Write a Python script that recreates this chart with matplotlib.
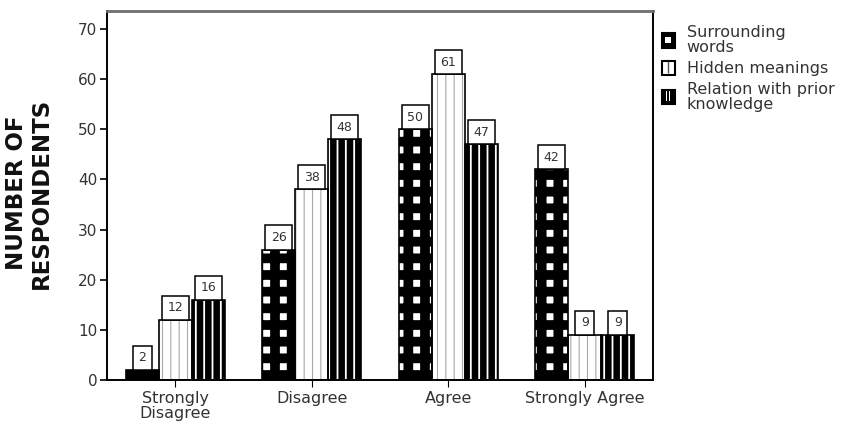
import matplotlib
matplotlib.use("Agg")
import matplotlib.pyplot as plt
import numpy as np
from matplotlib.patches import Patch
from matplotlib.lines import Line2D
from matplotlib.legend_handler import HandlerTuple

# Survey responses per agreement level
categories = ["Strongly\nDisagree", "Disagree", "Agree", "Strongly Agree"]
series_names = ["Surrounding\nwords", "Hidden meanings", "Relation with prior\nknowledge"]
surrounding_words = [2, 26, 50, 42]
hidden_meanings = [12, 38, 61, 9]
relation_prior = [16, 48, 47, 9]
y_ticks = [0, 10, 20, 30, 40, 50, 60, 70]

series = [surrounding_words, hidden_meanings, relation_prior]

# fill style per series: face colour, hatch pattern, hatch colour, hatch width (pt)
styles = [
    dict(face="white", hatch="+", hcolor="black", hlw=7.0),
    dict(face="white", hatch="||", hcolor="#a8a8a8", hlw=0.8),
    dict(face="black", hatch="||", hcolor="white", hlw=1.3),
]

text_color = "#333333"
plt.rcParams["font.family"] = ["DejaVu Sans"]

fig = plt.figure(figsize=(8.58, 4.40), dpi=100)
ax = fig.add_axes([107 / 858, 1 - 380 / 440, (653 - 107) / 858, (380 - 11) / 440])

x = np.arange(len(categories))
width = 0.242
offsets = [-width, 0.0, width]


def hatched_bars(xs, heights, st):
    with plt.rc_context({"hatch.linewidth": st["hlw"], "hatch.color": st["hcolor"]}):
        bars = ax.bar(xs, heights, width, color=st["face"], edgecolor=st["hcolor"],
                      linewidth=0, hatch=st["hatch"], zorder=2)
        for b in bars:
            if hasattr(b, "set_hatch_linewidth"):
                b.set_hatch_linewidth(st["hlw"])
    return bars


for vals, off, st in zip(series, offsets, styles):
    xs = x + off
    hatched_bars(xs, vals, st)
    ax.bar(xs, vals, width, fill=False, edgecolor="black", linewidth=1.2, zorder=3)
    for xi, v in zip(xs, vals):
        pad = 0.45
        fs = 9
        ax.annotate(str(v), (xi, v), xytext=(0, pad * fs), textcoords="offset points",
                    ha="center", va="bottom", fontsize=fs, color=text_color, zorder=5,
                    bbox=dict(boxstyle=f"square,pad={pad}", facecolor="white",
                              edgecolor="black", linewidth=1.1))

ax.set_xlim(-0.5, 3.5)
ax.set_ylim(0, 73.6)
ax.set_yticks(y_ticks)
ax.set_xticks(x)
ax.set_xticklabels(categories, fontsize=11.5, color=text_color, linespacing=1.0)
ax.tick_params(axis="y", direction="out", length=5, width=1.2, labelsize=11,
               labelcolor=text_color, pad=2)
ax.tick_params(axis="x", direction="out", length=5, width=0.8, pad=3)

for side in ["left", "bottom", "right"]:
    ax.spines[side].set_linewidth(1.4)
    ax.spines[side].set_color("black")
ax.spines["top"].set_linewidth(2.0)
ax.spines["top"].set_color("#6e6e6e")

fig.text(29 / 858, 1 - 193 / 440, "NUMBER OF\nRESPONDENTS", rotation=90,
         ha="center", va="center", fontsize=16.5, fontweight="bold", color="#111111",
         linespacing=1.1)

# legend swatches
outline = dict(fill=False, edgecolor="black", linewidth=1.5)
sw_words = (Patch(facecolor="black", edgecolor="black", linewidth=0),
            Line2D([], [], linestyle="none", marker="s", markersize=4.5,
                   markerfacecolor="white", markeredgewidth=0),
            Patch(**outline))
sw_hidden = (Patch(facecolor="white", edgecolor="white", linewidth=0),
             Line2D([], [], linestyle="none", marker="|", markersize=9,
                    color="#555555", markeredgewidth=1.0),
             Patch(**outline))
sw_relation = (Patch(facecolor="black", edgecolor="black", linewidth=0),
               Line2D([], [], linestyle="none", marker="$||$", markersize=7,
                      color="white", markeredgewidth=0),
               Patch(**outline))

leg = fig.legend([sw_words, sw_hidden, sw_relation], series_names, loc="upper left",
                 bbox_to_anchor=(662 / 858, 1 - 25 / 440), frameon=False,
                 fontsize=11.5, handlelength=0.8, handleheight=1.0,
                 handletextpad=0.75, labelspacing=0.35, borderpad=0, borderaxespad=0,
                 handler_map={tuple: HandlerTuple(ndivide=1, pad=0)})
for t in leg.get_texts():
    t.set_color(text_color)
    t.set_linespacing(1.0)

fig.savefig("out.png", dpi=100)
